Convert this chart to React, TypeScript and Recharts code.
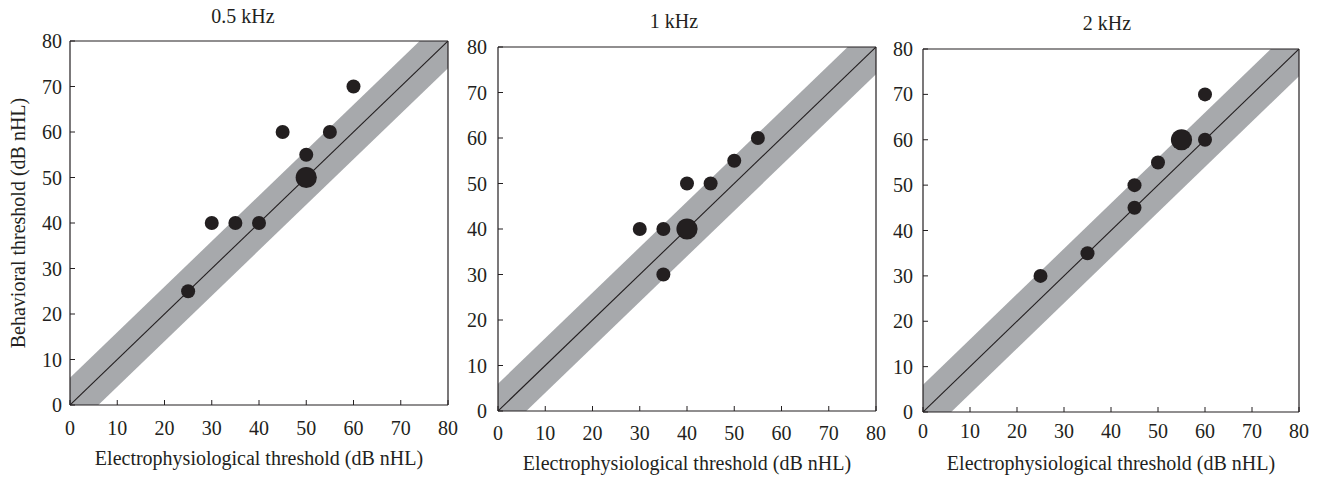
import React from 'react';
import { ComposedChart, XAxis, YAxis, Area, Line, Scatter, Label } from 'recharts';

// Thresholds per test frequency: electrophysiological (x) vs behavioural (y), dB nHL.
// `count` marks overlapping subjects (drawn as a larger dot).
const frequencyTitles = ['0.5 kHz', '1 kHz', '2 kHz'];

const electro05 = [25, 30, 35, 40, 45, 50, 50, 55, 60];
const behav05 = [25, 40, 40, 40, 60, 55, 50, 60, 70];
const count05 = [1, 1, 1, 1, 1, 1, 2, 1, 1];

const electro1 = [30, 35, 35, 40, 40, 45, 50, 55];
const behav1 = [40, 40, 30, 40, 50, 50, 55, 60];
const count1 = [1, 1, 1, 2, 1, 1, 1, 1];

const electro2 = [25, 35, 45, 45, 50, 55, 60, 60];
const behav2 = [30, 35, 45, 50, 55, 60, 60, 70];
const count2 = [1, 1, 1, 1, 1, 2, 1, 1];

const axisTicks = [0, 10, 20, 30, 40, 50, 60, 70, 80];
const axisDomain: [number, number] = [0, 80];
const agreementHalfWidth = 6; // ±6 dB agreement band around the identity line

const xAxisTitle = 'Electrophysiological threshold (dB nHL)';
const yAxisTitle = 'Behavioral threshold (dB nHL)';

// identity line and band, built from the axis extent
const identityData = axisDomain.map((v) => ({
  x: v,
  diag: v,
  band: [v - agreementHalfWidth, v + agreementHalfWidth],
}));

const toPoints = (xs: number[], ys: number[], ns: number[]) =>
  xs.map((x, i) => ({ x, y: ys[i], count: ns[i] }));

const panelPoints = [
  toPoints(electro05, behav05, count05),
  toPoints(electro1, behav1, count1),
  toPoints(electro2, behav2, count2),
];

const INK = '#231f20';
const BAND = '#a7a9ac';
const FONT = "'Liberation Serif', 'DejaVu Serif', serif";
const CHART_HEIGHT = 477;

type PanelLayout = {
  left: number;
  width: number;
  yAxisWidth: number;
  marginRight: number;
  marginTop: number;
  xAxisHeight: number;
  xTickMargin: number;
  yTickMargin: number;
  titleDx: number;
  titleOffset: number;
  xLabelOffset: number;
  showYTitle: boolean;
};

// marginTop / marginRight leave 1px for the frame axes on the top and right
const layouts: PanelLayout[] = [
  { left: 0, width: 460, yAxisWidth: 70, marginRight: 11, marginTop: 40, xAxisHeight: 72, xTickMargin: 21, yTickMargin: 13, titleDx: -16, titleOffset: 17, xLabelOffset: 12, showYTitle: true },
  { left: 460, width: 430, yAxisWidth: 38, marginRight: 13, marginTop: 46, xAxisHeight: 66, xTickMargin: 20, yTickMargin: 16, titleDx: -13, titleOffset: 18, xLabelOffset: 7, showYTitle: false },
  { left: 890, width: 432, yAxisWidth: 33, marginRight: 22, marginTop: 48, xAxisHeight: 65, xTickMargin: 17, yTickMargin: 15, titleDx: -4, titleOffset: 18, xLabelOffset: 7, showYTitle: false },
];

const tickStyle = { fill: INK, fontSize: 20, fontFamily: FONT, style: { fontFamily: FONT } };
const textStyle = { fontFamily: FONT };

const renderDot = (props: any) => {
  const { cx, cy, payload } = props;
  if (cx == null || cy == null) return <g />;
  const r = payload.count > 1 ? 10.6 : 7;
  return <circle cx={cx} cy={cy} r={r} fill={INK} />;
};

function Panel({ title, points, layout }: { title: string; points: { x: number; y: number; count: number }[]; layout: PanelLayout }) {
  return (
    <div style={{ position: 'absolute', left: layout.left, top: 0, fontFamily: FONT }}>
      <ComposedChart
        width={layout.width}
        height={CHART_HEIGHT}
        data={identityData}
        margin={{ top: layout.marginTop, right: layout.marginRight, bottom: 0, left: 0 }}
        style={textStyle}
      >
        <XAxis
          dataKey="x"
          type="number"
          domain={axisDomain}
          ticks={axisTicks}
          interval={0}
          allowDataOverflow
          height={layout.xAxisHeight}
          tickSize={-5}
          tickMargin={layout.xTickMargin}
          tick={tickStyle}
          axisLine={{ stroke: INK, strokeWidth: 1.2 }}
          tickLine={{ stroke: INK, strokeWidth: 1 }}
        >
          <Label value={xAxisTitle} position="insideBottom" offset={layout.xLabelOffset} fill={INK} fontSize={20} fontFamily={FONT} style={textStyle} />
        </XAxis>
        <XAxis
          xAxisId="top"
          orientation="top"
          type="number"
          domain={axisDomain}
          ticks={axisTicks}
          height={1}
          tick={false}
          tickLine={false}
          axisLine={{ stroke: INK, strokeWidth: 1.2 }}
        >
          <Label value={title} position="top" offset={layout.titleOffset} dx={layout.titleDx} fill={INK} fontSize={20} fontFamily={FONT} style={textStyle} />
        </XAxis>
        <YAxis
          type="number"
          domain={axisDomain}
          ticks={axisTicks}
          interval={0}
          allowDataOverflow
          width={layout.yAxisWidth}
          tickSize={-5}
          tickMargin={layout.yTickMargin}
          tick={tickStyle}
          axisLine={{ stroke: INK, strokeWidth: 1.2 }}
          tickLine={{ stroke: INK, strokeWidth: 1 }}
        >
          {layout.showYTitle ? (
            <Label value={yAxisTitle} position="center" angle={-90} dx={-17} fill={INK} fontSize={20} fontFamily={FONT} style={textStyle} />
          ) : null}
        </YAxis>
        <YAxis
          yAxisId="right"
          orientation="right"
          type="number"
          domain={axisDomain}
          ticks={axisTicks}
          width={1}
          tick={false}
          tickLine={false}
          axisLine={{ stroke: INK, strokeWidth: 1.2 }}
        />
        <Area
          dataKey="band"
          type="linear"
          fill={BAND}
          fillOpacity={1}
          stroke="none"
          isAnimationActive={false}
          activeDot={false}
        />
        <Line
          dataKey="diag"
          type="linear"
          stroke={INK}
          strokeWidth={1.1}
          dot={false}
          activeDot={false}
          isAnimationActive={false}
        />
        <Scatter data={points} dataKey="y" shape={renderDot} isAnimationActive={false} />
      </ComposedChart>
    </div>
  );
}

export default function App() {
  return (
    <div
      style={{
        position: 'absolute',
        left: 0,
        top: 0,
        width: 1322,
        height: CHART_HEIGHT,
        background: '#ffffff',
        fontFamily: FONT,
      }}
    >
      {frequencyTitles.map((t, i) => (
        <Panel key={t} title={t} points={panelPoints[i]} layout={layouts[i]} />
      ))}
    </div>
  );
}
